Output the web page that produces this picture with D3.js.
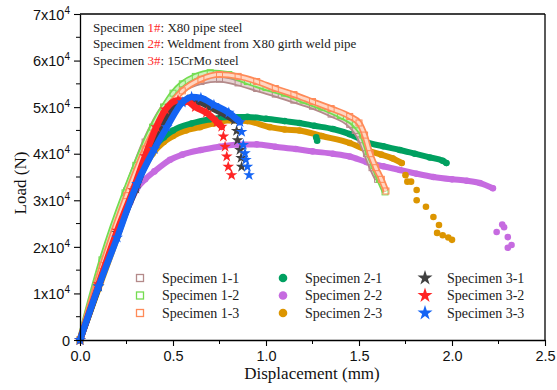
<!DOCTYPE html>
<html><head><meta charset="utf-8">
<script src="https://cdn.jsdelivr.net/npm/d3@7"></script>
<style>body{margin:0;background:#fff}svg{display:block}
.serif{font-family:"Liberation Serif","Times New Roman",Times,serif}
.sans{font-family:"Liberation Sans",Arial,Helvetica,sans-serif}
</style>
</head><body>
<svg id="c" width="557" height="390"></svg>
<script>
// ---------- data ----------
const xTicks = [0, 0.5, 1.0, 1.5, 2.0, 2.5];
const xTickLabels = ["0.0", "0.5", "1.0", "1.5", "2.0", "2.5"];
const yTicks = [0, 10000, 20000, 30000, 40000, 50000, 60000, 70000];
const yTickMantissa = ["0", "1", "2", "3", "4", "5", "6", "7"];

const s11 = [[0,0],[0.12,16500],[0.25,32000],[0.35,42500],[0.45,50000],[0.55,53800],[0.65,55500],[0.75,56000],[0.85,55200],[0.95,54000],[1.05,52800],[1.15,51500],[1.25,50200],[1.35,48500],[1.45,46300],[1.48,45000],[1.51,43000],[1.54,40000],[1.57,37000],[1.6,34500]];
const s12 = [[0,0],[0.118,17200],[0.242,31600],[0.3,37500],[0.39,45700],[0.45,50000],[0.5,53000],[0.55,55000],[0.62,56600],[0.7,57400],[0.8,57000],[0.9,55500],[1.0,54200],[1.1,53000],[1.2,51500],[1.3,50000],[1.4,48200],[1.48,46200],[1.52,44000],[1.55,40500],[1.58,37500],[1.61,34500],[1.64,31800]];
const s13 = [[0,0],[0.12,16000],[0.25,31000],[0.35,41000],[0.45,48500],[0.55,53500],[0.65,56000],[0.75,57000],[0.85,56600],[0.95,55500],[1.05,54000],[1.15,52700],[1.25,51200],[1.35,49700],[1.45,48000],[1.5,46600],[1.53,44000],[1.56,40000],[1.59,37000],[1.62,34500],[1.645,32000]];

const s21 = [[0,0],[0.1,11500],[0.2,23000],[0.3,33500],[0.35,38000],[0.4,41500],[0.45,43500],[0.5,45000],[0.6,46500],[0.7,47400],[0.8,47900],[0.9,47900],[1.0,47500],[1.1,47000],[1.18,46600],[1.26,46000],[1.36,45300],[1.45,44200],[1.54,42500],[1.63,41600],[1.72,40800],[1.8,40000],[1.88,39200],[1.95,38500],[1.97,38000]];
const s21scatter = [[1.27,43500],[1.275,42800]];
const s22 = [[0,0],[0.1,11500],[0.2,22500],[0.27,29500],[0.306,32500],[0.35,34500],[0.4,36200],[0.484,38700],[0.55,39800],[0.65,40800],[0.75,41500],[0.85,42000],[0.95,42000],[1.05,41500],[1.16,41000],[1.25,40500],[1.36,40000],[1.45,39400],[1.54,38200],[1.63,37300],[1.72,36500],[1.81,35700],[1.9,35000],[2.0,34500],[2.08,34200],[2.15,33700],[2.22,32600]];
const s22scatter = [[2.24,23200],[2.27,24800],[2.28,24200],[2.3,22100],[2.32,20400],[2.3,19800]];
const s23 = [[0,0],[0.1,11000],[0.2,22000],[0.3,33000],[0.39,40000],[0.45,42500],[0.5,43800],[0.57,45000],[0.645,45700],[0.72,46500],[0.806,47200],[0.9,47000],[1.02,45700],[1.1,45200],[1.18,45000],[1.3,43800],[1.45,42300],[1.54,40800],[1.62,39800],[1.68,39000],[1.73,38000]];
const s23scatter = [[1.75,35400],[1.76,34000],[1.78,34000],[1.81,32200],[1.81,30000],[1.86,28600],[1.9,26400],[1.93,24700],[1.92,23000],[1.95,22500],[1.98,22000],[2.0,21500]];

const s31 = [[0,0],[0.1,11500],[0.2,23000],[0.3,32500],[0.38,41000],[0.45,47000],[0.52,50500],[0.58,51500],[0.65,51000],[0.7,50000],[0.76,48800],[0.83,47200]];
const s31drop = [[0.842,44900],[0.847,42900],[0.86,40800],[0.866,39100],[0.869,37200]];
const s32 = [[0,0],[0.1,12000],[0.2,23500],[0.285,32200],[0.35,39500],[0.41,45700],[0.46,49500],[0.527,51500],[0.58,51200],[0.62,50000],[0.68,48800],[0.737,46800],[0.762,45800]];
const s32drop = [[0.771,43700],[0.78,41500],[0.789,39400],[0.797,37200],[0.815,35400]];
const s33 = [[0,0],[0.1,11500],[0.2,22000],[0.306,33500],[0.4,41000],[0.467,45700],[0.55,51000],[0.6,52200],[0.65,52000],[0.72,50500],[0.8,48800],[0.86,46800]];
const s33drop = [[0.869,44700],[0.878,41900],[0.887,40100],[0.892,38700],[0.9,37200],[0.909,35400]];

const seriesNames = ["Specimen 1-1","Specimen 1-2","Specimen 1-3","Specimen 2-1","Specimen 2-2","Specimen 2-3","Specimen 3-1","Specimen 3-2","Specimen 3-3"];
const seriesColors = ["#b48a8a","#74dc50","#ff8a58","#00a060","#c66be0","#dc9500","#404040","#ff2424","#1464f4"];
const seriesInner = ["#e6d2d2","#cdf3bf","#ffd6c2"];
const noteLines = [["Specimen ","1#",": X80 pipe steel"],["Specimen ","2#",": Weldment from X80 girth weld pipe"],["Specimen ","3#",": 15CrMo steel"]];

// ---------- layout ----------
const svg = d3.select("#c");
const L = 80, R = 545, T = 14, B = 340;
const x = d3.scaleLinear().domain([0, 2.5]).range([L, R]);
const y = d3.scaleLinear().domain([0, 70000]).range([B, T]);
const line = d3.line().x(d => x(d[0])).y(d => y(d[1])).curve(d3.curveMonotoneX);

const plot = svg.append("g");

function circleSeries(data, scatter, color) {
  plot.append("path").datum(data).attr("d", line).attr("fill","none")
    .attr("stroke", color).attr("stroke-width", 6).attr("stroke-linecap","round").attr("stroke-linejoin","round");
  plot.selectAll(null).data(data.concat(scatter)).enter().append("circle")
    .attr("cx", d => x(d[0])).attr("cy", d => y(d[1])).attr("r", 3.3).attr("fill", color);
}
function squareSeries(data, color, inner) {
  plot.append("path").datum(data).attr("d", line).attr("fill","none")
    .attr("stroke", color).attr("stroke-width", 6.5).attr("stroke-linejoin","round");
  plot.append("path").datum(data).attr("d", line).attr("fill","none")
    .attr("stroke", inner).attr("stroke-width", 3).attr("stroke-linejoin","round");
  plot.selectAll(null).data(data).enter().append("rect")
    .attr("x", d => x(d[0]) - 3).attr("y", d => y(d[1]) - 3).attr("width", 6).attr("height", 6)
    .attr("fill","none").attr("stroke", color).attr("stroke-width", 1);
}
const star = d3.symbol().type(d3.symbolStar);
function starSeries(data, drop, color) {
  plot.append("path").datum(data).attr("d", line).attr("fill","none")
    .attr("stroke", color).attr("stroke-width", 6.5).attr("stroke-linecap","round").attr("stroke-linejoin","round");
  plot.selectAll(null).data(data.concat(drop)).enter().append("path")
    .attr("d", star.size(42)())
    .attr("transform", d => `translate(${x(d[0])},${y(d[1])})`).attr("fill", color);
}

circleSeries(s22, s22scatter, seriesColors[4]);
circleSeries(s23, s23scatter, seriesColors[5]);
circleSeries(s21, s21scatter, seriesColors[3]);
squareSeries(s11, seriesColors[0], seriesInner[0]);
squareSeries(s12, seriesColors[1], seriesInner[1]);
squareSeries(s13, seriesColors[2], seriesInner[2]);
starSeries(s31, s31drop, seriesColors[6]);
starSeries(s32, s32drop, seriesColors[7]);
starSeries(s33, s33drop, seriesColors[8]);

// ---------- axes ----------
const xMinor = d3.range(0.25, 2.5, 0.5);
const yMinor = d3.range(5000, 70000, 10000);
const xAxis = svg.append("g").attr("transform", `translate(0,${B})`)
  .call(d3.axisBottom(x).tickValues(xTicks).tickSize(6).tickSizeOuter(0).tickFormat((d,i) => xTickLabels[i]));
xAxis.selectAll("text").attr("class","sans").attr("font-size", 14.5).attr("fill","#111").attr("dy","0.85em");
xAxis.append("g").selectAll("line").data(xMinor).enter().append("line")
  .attr("x1", d => x(d)).attr("x2", d => x(d)).attr("y1", 0).attr("y2", 4).attr("stroke","#000");

const yAxis = svg.append("g").attr("transform", `translate(${L},0)`)
  .call(d3.axisLeft(y).tickValues(yTicks).tickSize(6).tickSizeOuter(0).tickFormat(() => ""));
yAxis.selectAll(".tick").each(function(d, i) {
  const t = d3.select(this).append("text").attr("x", -10).attr("dy", "0.36em")
    .attr("text-anchor","end").attr("fill","#111").attr("class","sans").attr("font-size", 14.5);
  if (d === 0) { t.text("0"); }
  else {
    t.append("tspan").text(yTickMantissa[i] + "x10");
    t.append("tspan").text("4").attr("font-size", 10).attr("dy", "-0.6em");
  }
});
yAxis.append("g").selectAll("line").data(yMinor).enter().append("line")
  .attr("y1", d => y(d)).attr("y2", d => y(d)).attr("x1", 0).attr("x2", -4).attr("stroke","#000");
svg.selectAll(".domain").attr("stroke","#000").attr("stroke-width", 1.3);
svg.selectAll(".tick line").attr("stroke","#000").attr("stroke-width", 1.1);

svg.append("line").attr("x1", L).attr("x2", R).attr("y1", T).attr("y2", T).attr("stroke","#000").attr("stroke-width",1.3);
svg.append("line").attr("x1", R).attr("x2", R).attr("y1", T).attr("y2", B).attr("stroke","#000").attr("stroke-width",1.3);

svg.append("text").attr("x", 312).attr("y", 379).attr("text-anchor","middle")
  .attr("class","serif").attr("font-size", 17).attr("fill","#111")
  .text("Displacement (mm)");
svg.append("text").attr("transform", `translate(26,183) rotate(-90)`).attr("text-anchor","middle")
  .attr("class","serif").attr("font-size", 17).attr("fill","#111")
  .text("Load (N)");

// ---------- notes ----------
noteLines.forEach((parts, i) => {
  const t = svg.append("text").attr("x", 93).attr("y", 32 + i * 16.3)
    .attr("class","serif").attr("font-size", 13).attr("fill","#222");
  t.append("tspan").text(parts[0]);
  t.append("tspan").text(parts[1]).attr("fill","#ff2a2a");
  t.append("tspan").text(parts[2]);
});

// ---------- legend ----------
const colX = [140, 283, 425];
const rowY = [278, 295.5, 313];
seriesNames.forEach((name, i) => {
  const c = Math.floor(i / 3), r = i % 3;
  const mx = colX[c], my = rowY[r];
  const g = svg.append("g");
  if (c === 0) {
    g.append("rect").attr("x", mx - 3.5).attr("y", my - 3.5).attr("width", 7).attr("height", 7)
      .attr("fill","none").attr("stroke", seriesColors[i]).attr("stroke-width", 1.3);
  } else if (c === 1) {
    g.append("circle").attr("cx", mx).attr("cy", my).attr("r", 4.3).attr("fill", seriesColors[i]);
  } else {
    g.append("path").attr("d", star.size(70)()).attr("transform", `translate(${mx},${my})`).attr("fill", seriesColors[i]);
  }
  g.append("text").attr("x", mx + 22).attr("y", my).attr("dy","0.35em")
    .attr("class","serif").attr("font-size", 14).attr("fill","#222")
    .text(name);
});
</script>
</body></html>
